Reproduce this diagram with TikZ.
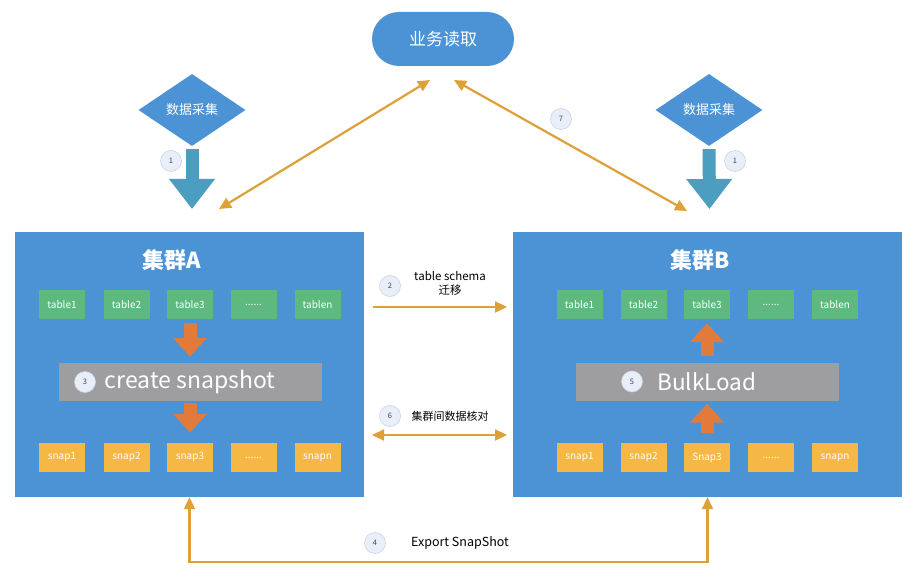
\documentclass[tikz,border=0pt]{standalone}
\usepackage{fontspec}
\setmainfont{Noto Sans CJK SC}
\usetikzlibrary{arrows.meta,shapes.geometric}
\definecolor{clusterblue}{RGB}{76,147,213}
\definecolor{tablegreen}{RGB}{93,185,125}
\definecolor{snapyellow}{RGB}{245,184,68}
\definecolor{bargray}{RGB}{158,158,160}
\definecolor{thickorange}{RGB}{226,122,58}
\definecolor{connorange}{RGB}{222,160,56}
\definecolor{tealarrow}{RGB}{75,158,192}
\definecolor{badgefill}{RGB}{233,239,249}
\definecolor{badgedraw}{RGB}{200,211,228}
\definecolor{badgetext}{RGB}{55,68,95}
\newcommand{\fs}[1]{\fontsize{#1}{#1}\selectfont}
\newcommand{\sixdots}{......}
\begin{document}
\begin{tikzpicture}[x=1pt,y=-1pt,
  cluster/.style={fill=clusterblue,draw=none,minimum height=265pt,inner sep=0pt},
  ctitle/.style={text=white,font=\fs{22}\bfseries},
  tablebox/.style={fill=tablegreen,minimum width=46pt,minimum height=29pt,inner sep=0pt,text=white,font=\fs{10}},
  snapbox/.style={fill=snapyellow,minimum width=46pt,minimum height=29pt,inner sep=0pt,text=white,font=\fs{10}},
  graybar/.style={fill=bargray,minimum width=263pt,minimum height=38pt,inner sep=0pt},
  bartext/.style={text=white,font=\fs{22.5}},
  badge/.style={circle,fill=badgefill,draw=badgedraw,line width=0.6pt,minimum size=21pt,inner sep=0pt,text=badgetext,font=\fs{7.5}},
  thick arrow/.style={draw=thickorange,line width=13pt,-{Triangle[width=33pt,length=19pt]}},
  teal arrow/.style={draw=tealarrow,line width=13pt,-{Triangle[width=44pt,length=30pt]}},
  conn/.style={draw=connorange,line width=2.2pt,-{Triangle[width=11pt,length=12pt]}},
  conn2/.style={draw=connorange,line width=2.2pt,{Triangle[width=11pt,length=12pt]}-{Triangle[width=11pt,length=12pt]}},
  diam/.style={diamond,fill=clusterblue,minimum width=107pt,minimum height=72pt,inner sep=0pt,aspect=1.5,text=white,font=\fs{13}},
  label/.style={text=black,font=\fs{11}},
]
\useasboundingbox[fill=white] (0,0) rectangle (917,577);

% top node
\node[fill=clusterblue,rounded corners=27pt,minimum width=142pt,minimum height=54pt,inner sep=0pt,text=white,font=\fs{17}] (read) at (443,39) {业务读取};

% diamonds
\node[diam] (dL) at (192,110) {数据采集};
\node[diam] (dR) at (709,110) {数据采集};

% clusters
\node[cluster,minimum width=349pt] (A) at (189.5,364.5) {};
\node[cluster,minimum width=389pt] (B) at (707.5,364.5) {};
\node[ctitle] (tA) at (172,260) {集群A};
\node[ctitle] (tB) at (700,260) {集群B};

% tables & snaps
\foreach \i/\x/\t in {1/62/table1,2/126.5/table2,3/190/table3,4/253.5/\sixdots,5/317.5/tablen}{
  \node[tablebox] (tA\i) at (\x,304.5) {\t};
}
\foreach \i/\x/\t in {1/62/snap1,2/126.5/snap2,3/190/snap3,4/253.5/\sixdots,5/317.5/snapn}{
  \node[snapbox] (sA\i) at (\x,457.5) {\t};
}
\foreach \i/\x/\t in {1/579.5/table1,2/643.5/table2,3/707/table3,4/771/\sixdots,5/835/tablen}{
  \node[tablebox] (tB\i) at (\x,304.5) {\t};
}
\foreach \i/\x/\t in {1/579.5/snap1,2/643.5/snap2,3/707/Snap3,4/771/\sixdots,5/835/snapn}{
  \node[snapbox] (sB\i) at (\x,457.5) {\t};
}

% gray bars
\node[graybar] (barA) at (190,382) {};
\node[bartext,font=\fs{23}] (barAt) at (190,382) {create snapshot};
\node[badge] (b3) at (85,382) {3};
\node[graybar] (barB) at (707,381.5) {};
\node[bartext] (barBt) at (707,381.5) {BulkLoad};
\node[badge] (b5) at (632,381.5) {5};

% thick orange arrows
\draw[thick arrow,shorten <=4pt,shorten >=6pt] (tA3.south) -- (barA.north);
\draw[thick arrow,shorten <=2pt,shorten >=10pt] (barA.south) -- (sA3.north);
\draw[thick arrow,shorten <=10pt,shorten >=3pt] (sB3.north) -- (barB.south);
\draw[thick arrow,shorten <=6pt,shorten >=4pt] (barB.north) -- (tB3.south);

% teal arrows
\coordinate (tealLend) at (192,209);
\coordinate (tealRend) at (709.5,209);
\draw[teal arrow,shorten <=3pt] (dL.south) -- (tealLend);
\draw[teal arrow,shorten <=3pt] (dR.south) -- (tealRend);
\node[badge] (b1L) at (171,161) {1};
\node[badge] (b1R) at (735,161) {1};

% diagonal connectors to read
\coordinate (rdL) at (430,80);
\coordinate (rdR) at (454,80);
\coordinate (cAtop) at (219,209);
\coordinate (cBtop) at (687,211);
\draw[conn2] (cAtop) -- (rdL);
\draw[conn2] (rdR) -- (cBtop);
\node[badge] (b7) at (561,119) {7};

% middle connectors
\coordinate (m2s) at (373,307);
\coordinate (m2e) at (507,307);
\draw[conn] (m2s) -- (m2e);
\node[badge] (b2) at (390,286) {2};
\node[label,align=center,font=\fs{11.5}] (l2) at (450,283.5) {table schema\\[3pt]迁移};

\coordinate (m6s) at (372,435);
\coordinate (m6e) at (507,435);
\draw[conn2] (m6s) -- (m6e);
\node[badge] (b6) at (390,416) {6};
\node[label] (l6) at (450,416) {集群间数据核对};

% bottom export
\coordinate (eBot) at (450,562);
\draw[conn2] (A.south) |- (eBot) -| (B.south);
\node[badge] (b4) at (375,543) {4};
\node[label,font=\fs{12.5}] (l4) at (460,543) {Export SnapShot};
\end{tikzpicture}
\end{document}
